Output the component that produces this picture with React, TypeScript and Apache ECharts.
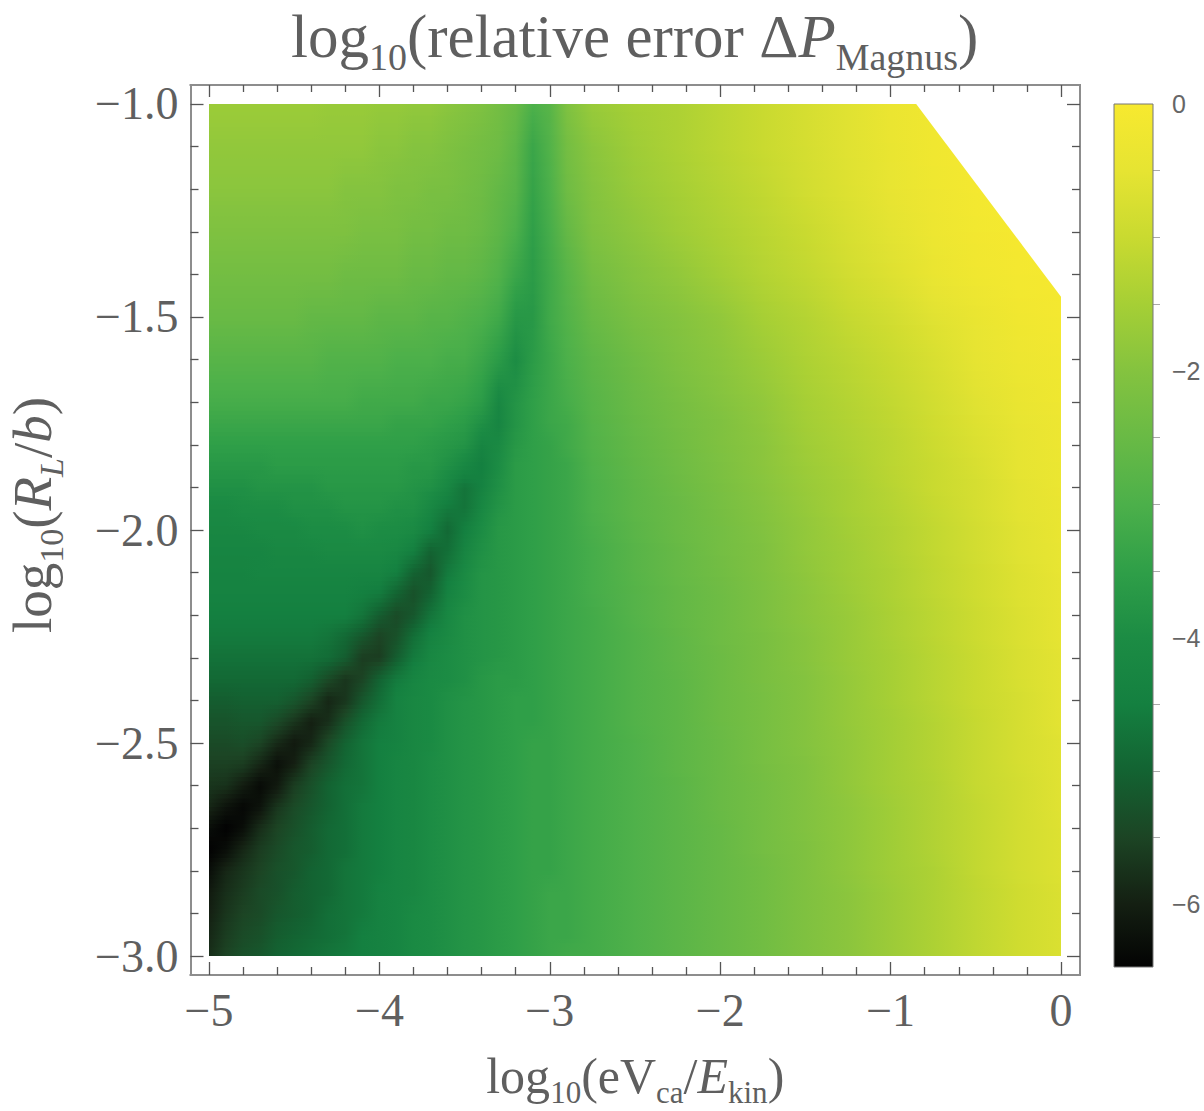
import React, { useEffect, useRef } from "react";
import * as echarts from "echarts";

const colourValues = [0, -0.5, -1, -1.5, -2, -2.5, -3, -3.5, -4, -4.5, -5, -5.5, -6, -6.47];
const colourHexes = ["#f7e92f", "#e6e432", "#c9da30", "#a6cf35", "#84c33f", "#69ba45", "#4cb04a", "#2f9f48", "#1c8c44", "#148040", "#136332", "#1c4424", "#141f12", "#030303"];

const columnX = [-5, -4.9, -4.8, -4.7, -4.6, -4.5, -4.4, -4.3, -4.2, -4.1, -4, -3.9, -3.8, -3.7, -3.6, -3.5, -3.4, -3.3, -3.2, -3.1, -3, -2.9, -2.75, -2.5, -2.25, -2, -1.75, -1.5, -1.25, -1, -0.75, -0.5, -0.25, 0];
const rowY = [-1, -1.1, -1.2, -1.3, -1.4, -1.5, -1.6, -1.7, -1.75, -1.8, -1.85, -1.9, -1.95, -2, -2.05, -2.1, -2.15, -2.2, -2.25, -2.3, -2.35, -2.4, -2.45, -2.5, -2.55, -2.6, -2.65, -2.7, -2.75, -2.8, -2.85, -2.9, -2.95, -3];

const r100 = [-1.65,-1.65,-1.65,-1.65,-1.65,-1.65,-1.65,-1.7,-1.7,-1.7,-1.75,-1.75,-1.8,-1.8,-1.9,-2,-2.1,-2.3,-2.5,-3,-2.8,-2.1,-1.7,-1.5,-1.4,-1.2,-1,-0.8,-0.6,-0.35,-0.2,-0.1,-0.05,0];
const r110 = [-1.8,-1.8,-1.8,-1.8,-1.8,-1.8,-1.8,-1.8,-1.8,-1.8,-1.9,-1.9,-2,-2,-2.1,-2.2,-2.3,-2.4,-2.7,-3.3,-2.9,-2.3,-1.9,-1.6,-1.4,-1.2,-1,-0.8,-0.6,-0.4,-0.2,-0.1,-0.05,0];
const r120 = [-1.9,-1.9,-1.9,-1.9,-1.9,-1.9,-1.9,-1.9,-2,-2,-2,-2.1,-2.1,-2.2,-2.2,-2.3,-2.4,-2.6,-2.8,-3.4,-3,-2.4,-2,-1.7,-1.5,-1.3,-1.1,-0.85,-0.65,-0.45,-0.25,-0.1,-0.05,0];
const r130 = [-2.1,-2.1,-2.1,-2.1,-2.1,-2.1,-2.1,-2.1,-2.1,-2.2,-2.2,-2.2,-2.3,-2.3,-2.4,-2.4,-2.5,-2.7,-3,-3.5,-3.1,-2.6,-2.1,-1.85,-1.6,-1.4,-1.2,-1,-0.75,-0.55,-0.3,-0.15,-0.05,0];
const r140 = [-2.3,-2.3,-2.3,-2.3,-2.3,-2.3,-2.3,-2.3,-2.4,-2.4,-2.4,-2.4,-2.5,-2.5,-2.6,-2.6,-2.7,-2.9,-3.3,-3.6,-3.2,-2.8,-2.3,-2,-1.8,-1.55,-1.3,-1.1,-0.85,-0.65,-0.4,-0.2,-0.1,-0.05];
const r150 = [-2.5,-2.5,-2.5,-2.5,-2.5,-2.5,-2.6,-2.6,-2.6,-2.6,-2.7,-2.7,-2.7,-2.8,-2.8,-2.9,-3,-3.2,-3.7,-3.7,-3.2,-2.9,-2.5,-2.2,-2,-1.8,-1.5,-1.3,-1.05,-0.85,-0.6,-0.4,-0.2,-0.1];
const r160 = [-2.8,-2.8,-2.8,-2.8,-2.8,-2.8,-2.8,-2.9,-2.9,-2.9,-2.9,-3,-3,-3,-3.1,-3.1,-3.3,-3.6,-4,-3.6,-3.3,-3,-2.7,-2.4,-2.1,-1.9,-1.65,-1.4,-1.2,-1,-0.75,-0.5,-0.3,-0.2];
const r170 = [-3.1,-3.1,-3.1,-3.1,-3.1,-3.1,-3.1,-3.1,-3.1,-3.2,-3.2,-3.2,-3.2,-3.3,-3.3,-3.4,-3.6,-4.2,-3.8,-3.5,-3.3,-3.1,-2.8,-2.5,-2.25,-2,-1.8,-1.5,-1.3,-1.1,-0.85,-0.6,-0.4,-0.25];
const r175 = [-3.3,-3.3,-3.3,-3.3,-3.3,-3.3,-3.3,-3.3,-3.3,-3.3,-3.3,-3.4,-3.4,-3.4,-3.5,-3.6,-3.9,-4.3,-3.8,-3.5,-3.3,-3.2,-2.85,-2.55,-2.3,-2.1,-1.85,-1.55,-1.35,-1.15,-0.9,-0.65,-0.45,-0.3];
const r180 = [-3.5,-3.5,-3.5,-3.5,-3.5,-3.5,-3.5,-3.5,-3.5,-3.5,-3.5,-3.5,-3.5,-3.6,-3.7,-3.8,-4.3,-4.1,-3.7,-3.5,-3.4,-3.2,-2.9,-2.6,-2.35,-2.1,-1.9,-1.6,-1.4,-1.2,-0.95,-0.7,-0.5,-0.3];
const r185 = [-3.7,-3.7,-3.7,-3.7,-3.6,-3.6,-3.6,-3.6,-3.6,-3.6,-3.6,-3.6,-3.7,-3.7,-3.9,-4.2,-4.5,-4,-3.6,-3.5,-3.4,-3.3,-2.95,-2.65,-2.4,-2.15,-1.9,-1.65,-1.45,-1.2,-1,-0.75,-0.5,-0.35];
const r190 = [-3.9,-3.9,-3.9,-3.8,-3.8,-3.8,-3.8,-3.7,-3.7,-3.7,-3.7,-3.7,-3.8,-3.9,-4.2,-4.7,-4.4,-3.9,-3.6,-3.5,-3.4,-3.3,-3,-2.7,-2.45,-2.2,-1.95,-1.7,-1.5,-1.25,-1,-0.8,-0.55,-0.35];
const r195 = [-4.1,-4.1,-4,-4,-4,-3.9,-3.9,-3.9,-3.8,-3.8,-3.8,-3.9,-3.9,-4.2,-4.6,-4.7,-4.2,-3.8,-3.6,-3.5,-3.4,-3.3,-3,-2.7,-2.5,-2.25,-2,-1.75,-1.5,-1.3,-1.05,-0.8,-0.55,-0.4];
const r200 = [-4.2,-4.2,-4.2,-4.1,-4.1,-4.1,-4,-4,-4,-3.9,-4,-4,-4.1,-4.5,-4.9,-4.5,-4,-3.7,-3.6,-3.5,-3.4,-3.3,-3.05,-2.75,-2.5,-2.3,-2.05,-1.8,-1.55,-1.35,-1.1,-0.85,-0.6,-0.4];
const r205 = [-4.3,-4.3,-4.3,-4.3,-4.2,-4.2,-4.2,-4.1,-4.1,-4.1,-4.1,-4.2,-4.5,-5,-4.8,-4.3,-3.9,-3.7,-3.6,-3.5,-3.4,-3.3,-3.1,-2.8,-2.55,-2.3,-2.1,-1.8,-1.6,-1.35,-1.1,-0.85,-0.6,-0.45];
const r210 = [-4.35,-4.35,-4.35,-4.3,-4.3,-4.3,-4.3,-4.3,-4.3,-4.3,-4.3,-4.5,-5,-5.2,-4.6,-4.1,-3.8,-3.7,-3.6,-3.5,-3.4,-3.3,-3.1,-2.8,-2.55,-2.35,-2.1,-1.85,-1.6,-1.4,-1.15,-0.9,-0.65,-0.45];
const r215 = [-4.4,-4.4,-4.4,-4.4,-4.4,-4.4,-4.4,-4.4,-4.4,-4.5,-4.6,-5,-5.3,-5,-4.4,-4,-3.8,-3.7,-3.6,-3.5,-3.4,-3.3,-3.1,-2.85,-2.6,-2.4,-2.15,-1.9,-1.65,-1.4,-1.15,-0.9,-0.65,-0.5];
const r220 = [-4.5,-4.5,-4.5,-4.5,-4.5,-4.5,-4.5,-4.5,-4.5,-4.7,-5.1,-5.4,-5.2,-4.7,-4.2,-3.9,-3.8,-3.7,-3.6,-3.5,-3.4,-3.3,-3.15,-2.85,-2.6,-2.4,-2.15,-1.9,-1.7,-1.45,-1.2,-0.95,-0.7,-0.5];
const r225 = [-4.6,-4.6,-4.6,-4.6,-4.6,-4.6,-4.6,-4.7,-4.9,-5.2,-5.5,-5.3,-4.8,-4.4,-4.1,-3.9,-3.8,-3.7,-3.6,-3.5,-3.4,-3.3,-3.15,-2.9,-2.65,-2.4,-2.2,-1.95,-1.7,-1.45,-1.2,-0.95,-0.7,-0.5];
const r230 = [-4.75,-4.75,-4.75,-4.75,-4.75,-4.75,-4.75,-4.85,-5.1,-5.6,-5.6,-5.1,-4.6,-4.2,-4,-3.9,-3.8,-3.7,-3.6,-3.5,-3.4,-3.3,-3.15,-2.9,-2.65,-2.45,-2.2,-1.95,-1.7,-1.5,-1.25,-1,-0.75,-0.55];
const r235 = [-4.9,-4.9,-4.9,-4.9,-4.9,-4.9,-5.05,-5.4,-5.7,-5.5,-5,-4.6,-4.3,-4.1,-4,-3.9,-3.7,-3.6,-3.6,-3.5,-3.4,-3.3,-3.15,-2.9,-2.7,-2.45,-2.2,-2,-1.75,-1.5,-1.25,-1,-0.75,-0.55];
const r240 = [-5.1,-5.1,-5.05,-5.05,-5.05,-5.2,-5.5,-5.9,-5.7,-5.2,-4.8,-4.4,-4.2,-4.1,-3.9,-3.8,-3.7,-3.6,-3.5,-3.5,-3.4,-3.3,-3.15,-2.9,-2.7,-2.45,-2.25,-2,-1.75,-1.5,-1.25,-1,-0.8,-0.55];
const r245 = [-5.25,-5.25,-5.2,-5.2,-5.4,-5.7,-6,-5.8,-5.3,-4.9,-4.6,-4.4,-4.2,-4.1,-3.9,-3.8,-3.7,-3.6,-3.5,-3.5,-3.4,-3.3,-3.15,-2.9,-2.7,-2.45,-2.25,-2,-1.75,-1.55,-1.3,-1.05,-0.8,-0.55];
const r250 = [-5.4,-5.4,-5.35,-5.5,-5.85,-6.1,-5.9,-5.4,-5,-4.7,-4.5,-4.4,-4.2,-4.1,-3.9,-3.8,-3.7,-3.6,-3.5,-3.4,-3.4,-3.3,-3.15,-2.95,-2.7,-2.5,-2.25,-2,-1.8,-1.55,-1.3,-1.05,-0.8,-0.6];
const r255 = [-5.55,-5.55,-5.6,-5.9,-6.25,-6,-5.5,-5.2,-4.9,-4.7,-4.5,-4.3,-4.2,-4,-3.9,-3.8,-3.7,-3.6,-3.5,-3.4,-3.4,-3.3,-3.15,-2.95,-2.7,-2.5,-2.25,-2.05,-1.8,-1.55,-1.3,-1.05,-0.8,-0.6];
const r260 = [-5.7,-5.75,-6.05,-6.35,-6.1,-5.6,-5.3,-5,-4.8,-4.7,-4.5,-4.3,-4.2,-4,-3.9,-3.8,-3.7,-3.6,-3.5,-3.4,-3.4,-3.3,-3.15,-2.95,-2.75,-2.5,-2.3,-2.05,-1.8,-1.55,-1.35,-1.05,-0.85,-0.6];
const r265 = [-5.9,-6.2,-6.4,-6.2,-5.7,-5.4,-5.2,-5,-4.8,-4.6,-4.5,-4.3,-4.2,-4,-3.9,-3.8,-3.7,-3.6,-3.5,-3.4,-3.4,-3.3,-3.15,-2.95,-2.75,-2.5,-2.3,-2.05,-1.85,-1.6,-1.35,-1.1,-0.85,-0.6];
const r270 = [-6.3,-6.5,-6.3,-5.8,-5.5,-5.3,-5.1,-4.9,-4.8,-4.6,-4.5,-4.3,-4.2,-4,-3.9,-3.8,-3.7,-3.6,-3.5,-3.4,-3.4,-3.3,-3.15,-2.95,-2.75,-2.55,-2.3,-2.05,-1.85,-1.6,-1.35,-1.1,-0.85,-0.65];
const r275 = [-6.5,-6.3,-5.9,-5.6,-5.4,-5.2,-5.1,-4.9,-4.8,-4.6,-4.5,-4.3,-4.2,-4,-3.9,-3.8,-3.7,-3.6,-3.5,-3.4,-3.4,-3.3,-3.15,-2.95,-2.75,-2.55,-2.3,-2.1,-1.85,-1.6,-1.35,-1.1,-0.85,-0.65];
const r280 = [-6.3,-5.9,-5.7,-5.5,-5.3,-5.2,-5,-4.9,-4.7,-4.6,-4.5,-4.3,-4.2,-4,-3.9,-3.8,-3.7,-3.6,-3.5,-3.4,-3.4,-3.3,-3.15,-2.95,-2.75,-2.55,-2.35,-2.1,-1.85,-1.6,-1.4,-1.1,-0.85,-0.65];
const r285 = [-6.1,-5.8,-5.6,-5.4,-5.3,-5.1,-5,-4.9,-4.7,-4.6,-4.4,-4.3,-4.2,-4,-3.9,-3.8,-3.7,-3.6,-3.5,-3.4,-3.3,-3.3,-3.15,-2.95,-2.75,-2.55,-2.35,-2.1,-1.9,-1.65,-1.4,-1.15,-0.9,-0.7];
const r290 = [-6,-5.7,-5.5,-5.4,-5.2,-5.1,-5,-4.8,-4.7,-4.6,-4.4,-4.3,-4.1,-4,-3.9,-3.8,-3.7,-3.6,-3.5,-3.4,-3.3,-3.3,-3.15,-2.95,-2.75,-2.55,-2.35,-2.1,-1.9,-1.65,-1.4,-1.15,-0.9,-0.7];
const r295 = [-5.9,-5.6,-5.4,-5.3,-5.1,-5,-4.9,-4.8,-4.7,-4.5,-4.4,-4.3,-4.1,-4,-3.9,-3.8,-3.7,-3.6,-3.5,-3.4,-3.3,-3.3,-3.15,-2.95,-2.75,-2.55,-2.35,-2.1,-1.9,-1.65,-1.4,-1.15,-0.9,-0.7];
const r300 = [-5.8,-5.5,-5.3,-5.2,-5,-4.9,-4.8,-4.7,-4.6,-4.5,-4.4,-4.3,-4.1,-4,-3.9,-3.8,-3.7,-3.6,-3.5,-3.4,-3.3,-3.2,-3.15,-2.95,-2.75,-2.55,-2.35,-2.1,-1.9,-1.65,-1.4,-1.15,-0.9,-0.7];
const rowValues = [r100, r110, r120, r130, r140, r150, r160, r170, r175, r180, r185, r190, r195, r200, r205, r210, r215, r220, r225, r230, r235, r240, r245, r250, r255, r260, r265, r270, r275, r280, r285, r290, r295, r300];

const cutX = [-0.85, 0, 0.012, 0.012, -0.85];
const cutY = [-1, -1.4525, -1.4525, -0.99, -0.99];

const xMajor = [-5, -4, -3, -2, -1, 0];
const xMinor = [-4.8, -4.6, -4.4, -4.2, -3.8, -3.6, -3.4, -3.2, -2.8, -2.6, -2.4, -2.2, -1.8, -1.6, -1.4, -1.2, -0.8, -0.6, -0.4, -0.2];
const yMajor = [-3, -2.5, -2, -1.5, -1];
const yMinor = [-2.9, -2.8, -2.7, -2.6, -2.4, -2.3, -2.2, -2.1, -1.9, -1.8, -1.7, -1.6, -1.4, -1.3, -1.2, -1.1];
const barMajor = [-6, -4, -2, 0];
const barMinor = [-6.5, -5.5, -5, -4.5, -3.5, -3, -2.5, -1.5, -1, -0.5];

const TITLE_TEXT = "{a|log}{s|10}{a|(relative error Δ}{i|P}{s|Magnus}{a|)}";
const X_NAME = "{a|log}{s|10}{a|(eV}{s|ca}{a|/}{i|E}{s|kin}{a|)}";
const Y_NAME = "{a|log}{s|10}{a|(}{i|R}{si|L}{a|/}{i|b}{a|)}";

const SERIF = "'Liberation Serif', serif";
const INK = "#5f5f5f";

function colourOf(v: number): string {
  for (let i = 0; i < colourValues.length - 1; i++) {
    if (v >= colourValues[i + 1]) {
      const t = (colourValues[i] - v) / (colourValues[i] - colourValues[i + 1]);
      return echarts.color.lerp(Math.max(0, t), [colourHexes[i], colourHexes[i + 1]]) as string;
    }
  }
  return colourHexes[colourHexes.length - 1];
}

function rich(size: number, sub: number) {
  const lh = size * 1.3;
  const base = { fontFamily: SERIF, fontWeight: "normal", color: INK };
  return {
    a: { ...base, fontSize: size, lineHeight: lh },
    i: { ...base, fontSize: size, fontStyle: "italic", lineHeight: lh },
    s: { ...base, fontSize: sub, verticalAlign: "bottom", lineHeight: sub },
    si: { ...base, fontSize: sub, fontStyle: "italic", verticalAlign: "bottom", lineHeight: sub },
  };
}

const frameLine = { show: true, onZero: false, lineStyle: { color: "#8d8d8d", width: 2 } };

const X_RANGE = { min: -5.1086, max: 0.1115 };
const Y_RANGE = { min: -3.0446, max: -0.9554 };

function xAxis(position: string, values: number[], len: number, labels: boolean, extra: object = {}) {
  return {
    type: "value", gridIndex: 0, position, ...X_RANGE,
    axisLine: frameLine, splitLine: { show: false },
    axisTick: { show: true, inside: true, length: len, customValues: values, lineStyle: { color: "#555", width: 1.3 } },
    axisLabel: labels
      ? { show: true, customValues: values, margin: 12, fontFamily: SERIF, fontSize: 46, color: INK, formatter: (v: number) => String(v).replace("-", "\u2212") }
      : { show: false },
    ...extra,
  };
}
function yAxis(position: string, values: number[], len: number, labels: boolean, extra: object = {}) {
  return {
    type: "value", gridIndex: 0, position, ...Y_RANGE,
    axisLine: frameLine, splitLine: { show: false },
    axisTick: { show: true, inside: true, length: len, customValues: values, lineStyle: { color: "#555", width: 1.3 } },
    axisLabel: labels
      ? { show: true, customValues: values, margin: 12, fontFamily: SERIF, fontSize: 46, color: INK, formatter: (v: number) => v.toFixed(1).replace("-", "\u2212") }
      : { show: false },
    ...extra,
  };
}

export default function App() {
  const ref = useRef<HTMLDivElement>(null);
  useEffect(() => {
    const chart = echarts.init(ref.current!, null, { renderer: "svg" });
    chart.setOption({
      animation: false,
      backgroundColor: "#ffffff",
      title: {
        text: TITLE_TEXT, left: 291, top: -3, padding: 0,
        textStyle: { fontWeight: "normal", rich: rich(61, 38) },
      },
      grid: [
        { left: 190.5, top: 85, width: 889.5, height: 890, containLabel: false, outerBoundsMode: "none" },
        { left: 1114, top: 104, width: 39, height: 863, containLabel: false, outerBoundsMode: "none" },
      ],
      xAxis: [
        xAxis("bottom", xMajor, 13, true, {
          name: X_NAME, nameLocation: "middle", nameGap: 68,
          nameTextStyle: { rich: rich(50, 31) },
        }),
        xAxis("bottom", xMinor, 8, false),
        xAxis("top", xMajor, 12, false),
        xAxis("top", xMinor, 7, false),
        { type: "value", gridIndex: 1, min: 0, max: 1, show: false },
      ],
      yAxis: [
        yAxis("left", yMajor, 13, true, {
          name: Y_NAME, nameLocation: "middle", nameGap: 122, nameRotate: 90,
          nameTextStyle: { rich: rich(55, 34), padding: [0, 0, 0, 30] },
        }),
        yAxis("left", yMinor, 8, false),
        yAxis("right", yMajor, 13, false),
        yAxis("right", yMinor, 8, false),
        {
          type: "value", gridIndex: 1, position: "right", min: -6.47, max: 0,
          splitLine: { show: false },
          axisLine: { show: false },
          axisTick: { show: true, length: 11, customValues: barMajor, lineStyle: { color: "#aaa", width: 1 } },
          axisLabel: { show: true, customValues: barMajor, margin: 19, fontFamily: "'Liberation Sans', sans-serif", fontSize: 25, color: "#666", formatter: (v: number) => String(v).replace("-", "\u2212") },
        },
        {
          type: "value", gridIndex: 1, position: "right", min: -6.47, max: 0,
          splitLine: { show: false },
          axisLine: { show: false },
          axisTick: { show: true, length: 7, customValues: barMinor, lineStyle: { color: "#aaa", width: 1 } },
          axisLabel: { show: false },
        },
      ],
      series: [
        {
          type: "custom", xAxisIndex: 0, yAxisIndex: 0, silent: true, clip: false,
          data: rowY.slice(0, -1).map((y) => [-5, y]),
          renderItem: (params: any, api: any) => {
            const i = params.dataIndex;
            const a = api.coord([-5, rowY[i]]);
            const b = api.coord([0, rowY[i + 1]]);
            const h = b[1] - a[1];
            const n = Math.max(1, Math.round(h / 4));
            const children: any[] = [];
            for (let k = 0; k < n; k++) {
              const t = (k + 0.5) / n;
              const last = i === rowY.length - 2 && k === n - 1;
              children.push({
                type: "rect",
                shape: { x: a[0], y: a[1] + (h * k) / n, width: b[0] - a[0], height: h / n + (last ? 0 : 1) },
                style: {
                  fill: new echarts.graphic.LinearGradient(0, 0, 1, 0,
                    columnX.map((x, c) => ({
                      offset: (x + 5) / 5,
                      color: colourOf(rowValues[i][c] * (1 - t) + rowValues[i + 1][c] * t),
                    }))),
                },
              });
            }
            return { type: "group", children };
          },
        },
        {
          type: "custom", xAxisIndex: 0, yAxisIndex: 0, silent: true, clip: false,
          data: [[cutX[0], cutY[0]]],
          renderItem: (_p: any, api: any) => ({
            type: "polygon",
            shape: { points: cutX.map((x, k) => api.coord([x, cutY[k]])) },
            style: { fill: "#ffffff" },
          }),
        },
        {
          type: "custom", xAxisIndex: 4, yAxisIndex: 4, silent: true, clip: false,
          data: [[0, 0]],
          renderItem: (_p: any, api: any) => {
            const a = api.coord([0, 0]);
            const b = api.coord([1, colourValues[colourValues.length - 1]]);
            return {
              type: "rect",
              shape: { x: a[0], y: a[1], width: b[0] - a[0], height: b[1] - a[1] },
              style: {
                stroke: "#777", lineWidth: 1,
                fill: new echarts.graphic.LinearGradient(0, 0, 0, 1,
                  colourValues.map((v, k) => ({ offset: v / colourValues[colourValues.length - 1], color: colourHexes[k] }))),
              },
            };
          },
        },
      ],
    });
    return () => chart.dispose();
  }, []);
  return <div ref={ref} style={{ position: "absolute", left: 0, top: 0, width: 1204, height: 1111 }} />;
}
